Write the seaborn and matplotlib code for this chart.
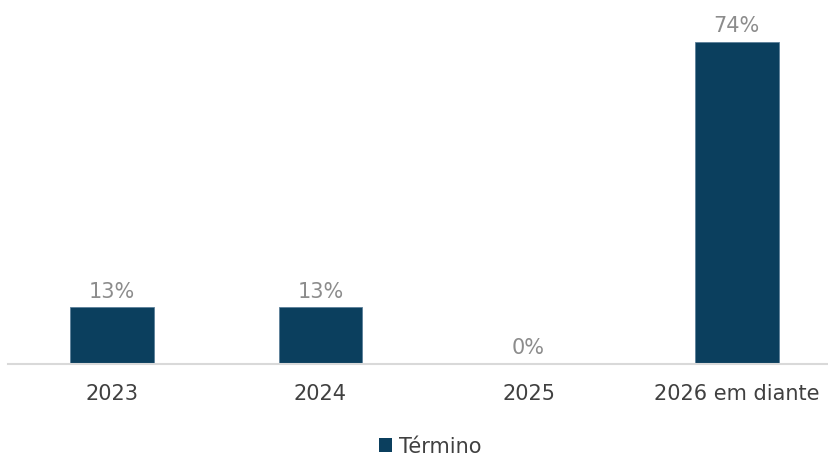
import matplotlib
matplotlib.use("Agg")
import matplotlib.pyplot as plt
import seaborn as sns
import pandas as pd
from matplotlib.patches import Patch

categories = ["2023", "2024", "2025", "2026 em diante"]
values = [13, 13, 0, 74]
series_name = "Término"

sns.set_theme(style="white")
plt.rcParams["font.family"] = ["DejaVu Sans"]

bar_color = "#0B3F5E"
df = pd.DataFrame({"ano": categories, "pct": values})

fig = plt.figure(figsize=(8.29, 4.56), dpi=100)
ax = fig.add_axes([8 / 829, 91 / 456, 833 / 829, 348 / 456])

sns.barplot(data=df, x="ano", y="pct", color=bar_color, width=0.4,
            saturation=1, ax=ax, edgecolor="#5C7F99", linewidth=0.6)

ax.set_ylim(0, 80)
ax.set_xlim(-0.5, 3.5)
ax.set_xlabel("")
ax.set_ylabel("")
ax.set_yticks([])
for s in ["top", "right", "left"]:
    ax.spines[s].set_visible(False)
ax.spines["bottom"].set_color("#D9D9D9")
ax.spines["bottom"].set_linewidth(1.5)
ax.tick_params(axis="x", length=0, pad=14, labelsize=15, labelcolor="#404040")

for i, v in enumerate(values):
    ax.annotate(f"{v}%", (i, v), xytext=(0, 5), textcoords="offset points",
                ha="center", va="bottom", fontsize=15, color="#8C8C8C")

handle = Patch(facecolor=bar_color, edgecolor="none")
fig.legend([handle], [series_name], loc="center", bbox_to_anchor=(430 / 829, 1 - 447 / 456),
           frameon=False, fontsize=15, handlelength=0.65, handleheight=0.65,
           handletextpad=0.3, labelcolor="#404040")

fig.savefig("out.png", dpi=100)
